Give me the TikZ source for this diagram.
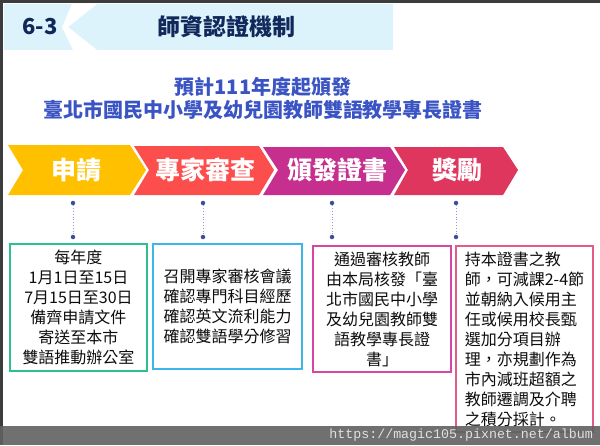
\documentclass[tikz,border=0pt]{standalone}
\usepackage{fontspec}
\setmainfont{Noto Sans CJK TC}
\setmonofont{Liberation Mono}
\usetikzlibrary{positioning}

\definecolor{framegray}{HTML}{3C3C3C}
\definecolor{headblue}{HTML}{DDF3FC}
\definecolor{navy}{HTML}{10285A}
\definecolor{subblue}{HTML}{3B54C4}
\definecolor{cyellow}{HTML}{FFC000}
\definecolor{cred}{HTML}{FD4E4E}
\definecolor{cmagenta}{HTML}{C62F8E}
\definecolor{ccrimson}{HTML}{DF365E}
\definecolor{dotblue}{HTML}{3D4E9E}
\definecolor{linkblue}{HTML}{8E99CF}
\definecolor{bgreen}{HTML}{2EBF8E}
\definecolor{bblue}{HTML}{3DB7EA}
\definecolor{bmagenta}{HTML}{D646A4}
\definecolor{bpink}{HTML}{E25C84}

\tikzset{
  stage/.style={text=white, font=\fontsize{25}{30}\selectfont\bfseries, inner sep=0pt},
  info/.style={draw, line width=1.3pt, inner sep=0pt, text=black!95,
    font=\fontsize{16}{20}\selectfont},
  dot/.style={circle, fill=dotblue, inner sep=0pt, minimum size=4.5pt},
  link/.style={dotted, thick, draw=linkblue}
}

\begin{document}
\begin{tikzpicture}[x=1pt, y=-1pt]
            \useasboundingbox (0,0) rectangle (600,445);
            % Frame and header
            \fill[white] (0,0) rectangle (600,445);
            \fill[framegray] (0,0) rectangle (600,3);
            \fill[framegray] (0,0) rectangle (3,445);
            \fill[headblue] (4,4) rectangle (393,50);
            \fill[white] (72,4) -- (97,4) -- (68,27) -- (97,50) -- (73,50) -- (62,27) -- cycle;
            \node[text=navy, font=\fontsize{22}{26}\selectfont\bfseries] (num) at (40,27) {6-3};
            \node[text=navy, font=\fontsize{23}{27}\selectfont\bfseries] (title) at (226,27) {師資認證機制};
            \node[text=subblue, align=center, font=\fontsize{20}{23}\selectfont\bfseries] (subtitle) at (263,98)
              {預計111年度起頒發\\臺北市國民中小學及幼兒園教師雙語教學專長證書};
            % Stages
            \fill[cyellow] (8,145) -- (130,145) -- (146,170) -- (130,195) -- (8,195) -- (23,170) -- cycle;
            \fill[cred] (134,146) -- (259,146) -- (274,170) -- (259,195) -- (134,195) -- (149,170) -- cycle;
            \fill[cmagenta] (263,147) -- (390,147) -- (405,170) -- (390,195) -- (263,195) -- (278,170) -- cycle;
            \fill[ccrimson] (394,147) -- (503,147) -- (518,170) -- (503,195) -- (394,195) -- (408,170) -- cycle;
            \node[stage] (apply) at (76,170) {申請};
            \node[stage] (review) at (205,170) {專家審查};
            \node[stage] (issue) at (337,170) {頒發證書};
            \node[stage] (reward) at (457,170) {獎勵};
            % Dots
            \node[dot] (a1) at (73,203) {};
            \node[dot] (a2) at (73,237) {};
            \node[dot] (b1) at (203,203) {};
            \node[dot] (b2) at (203,237) {};
            \node[dot] (c1) at (332,203) {};
            \node[dot] (c2) at (332,237) {};
            \node[dot] (d1) at (456,203) {};
            \node[dot] (d2) at (456,237) {};
            % Connection
            \draw[link] (a1) -- (a2);
            \draw[link] (b1) -- (b2);
            \draw[link] (c1) -- (c2);
            \draw[link] (d1) -- (d2);
            % Boxes
            \node[info, draw=bgreen, minimum width=137pt, minimum height=127pt, align=center] (applybox) at (78.5,307.5)
              {每年度\\1月1日至15日\\7月15日至30日\\備齊申請文件\\寄送至本市\\雙語推動辦公室};
            \node[info, draw=bblue, minimum width=149pt, minimum height=125pt, align=left] (reviewbox) at (227.5,306.5)
              {召開專家審核會議\\確認專門科目經歷\\確認英文流利能力\\確認雙語學分修習};
            \node[info, draw=bmagenta, minimum width=138pt, minimum height=126pt, align=center] (issuebox) at (382,309)
              {通過審核教師\\由本局核發「臺\\北市國民中小學\\及幼兒園教師雙\\語教學專長證\\書」};
            \node[info, draw=bpink, minimum width=137pt, minimum height=186pt, align=left] (rewardbox) at (524.5,339)
              {持本證書之教\\師，可減課2-4節\\並朝納入候用主\\任或候用校長甄\\選加分項目辦\\理，亦規劃作為\\市內減班超額之\\教師遷調及介聘\\之積分採計。};
            % Watermark band
            \fill[black!62, fill opacity=0.9] (0,426) rectangle (600,445);
            \node[anchor=east, text=black!12, font=\fontsize{13.3}{15}\ttfamily, inner sep=0pt] (mark) at (593,435.5)
              {https://magic105.pixnet.net/album};
        \end{tikzpicture}
\end{document}
